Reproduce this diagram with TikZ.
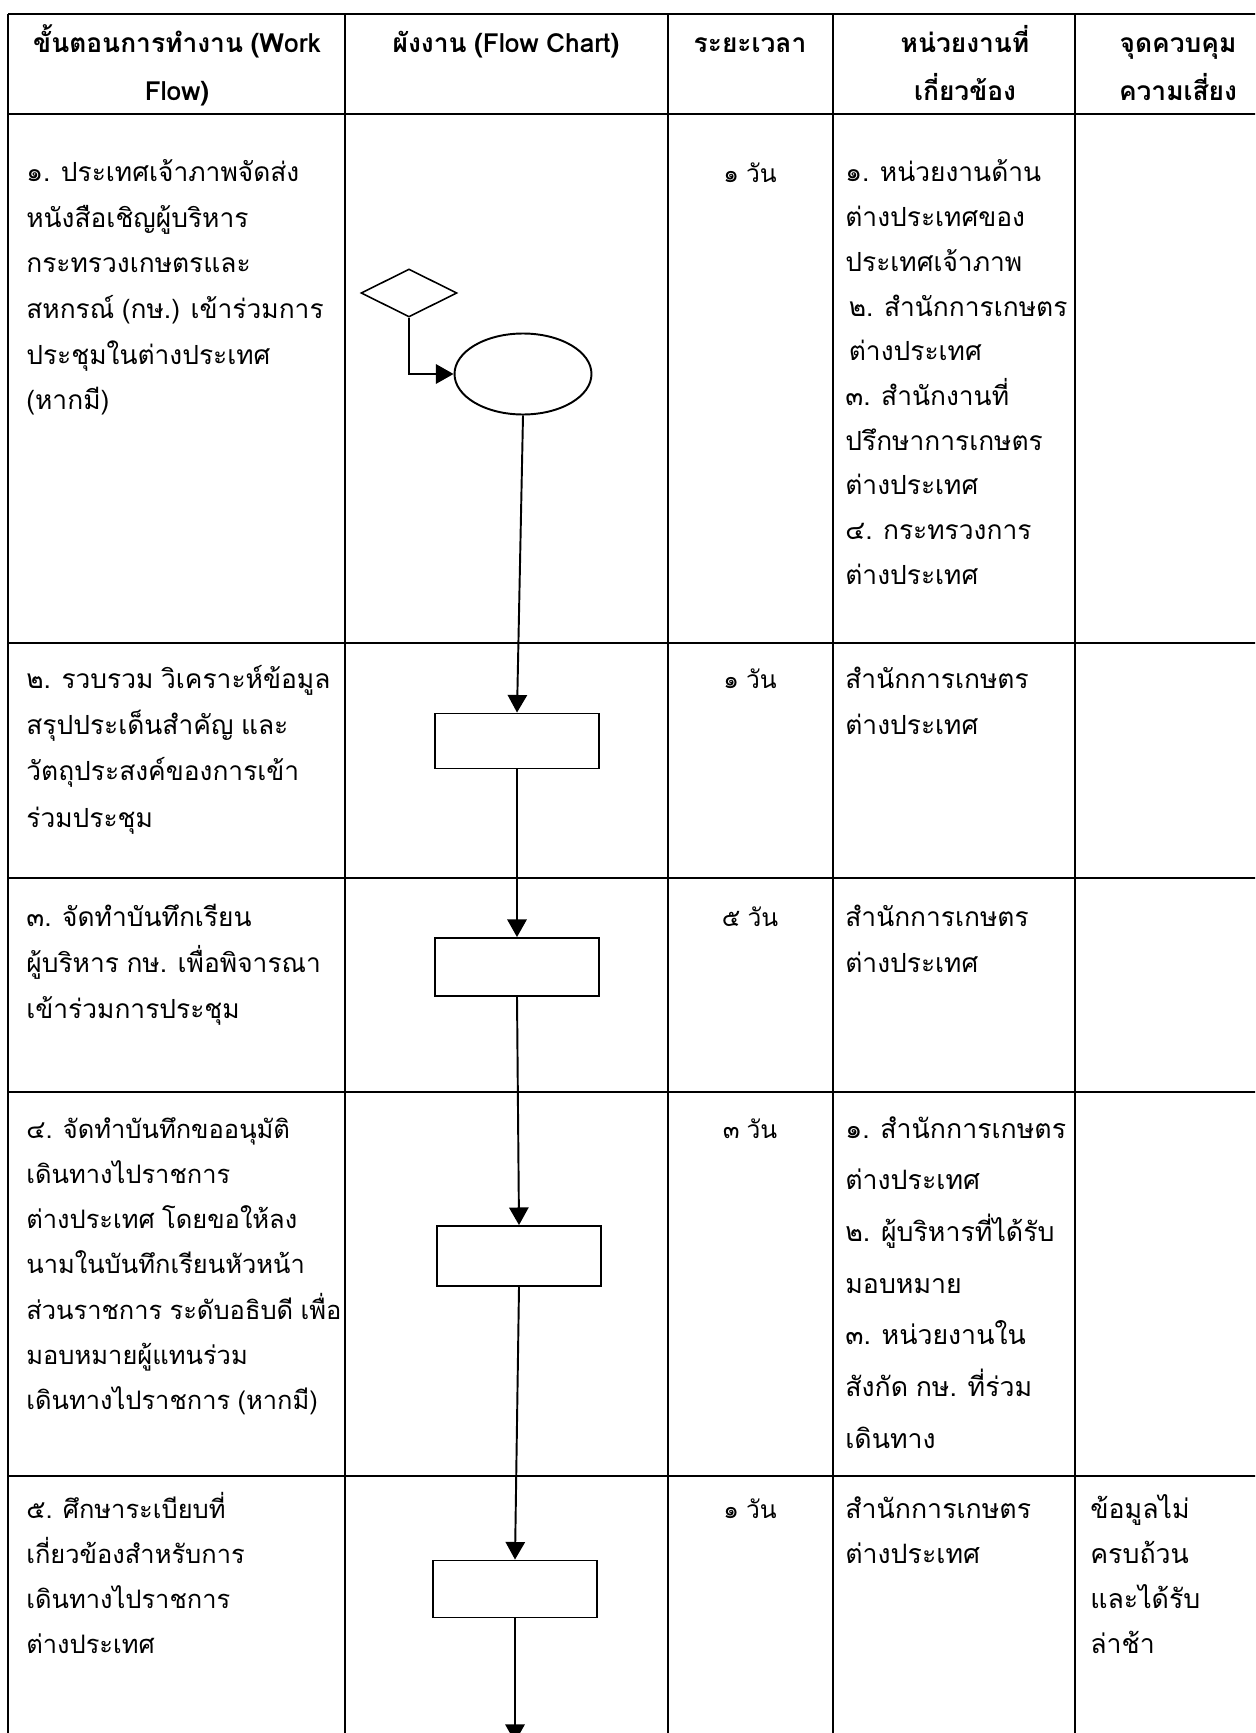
\documentclass[tikz,border=0pt]{standalone}
\usepackage{fontspec}
\newfontfamily\thai[Script=Thai,WordSpace=0.85]{Loma}
\usetikzlibrary{arrows.meta,shapes.geometric}

\begin{document}
\begin{tikzpicture}[x=0.02cm,y=-0.02cm,
    grid/.style={line width=1.2pt},
    headline/.style={line width=1.6pt},
    txt/.style={anchor=base west,inner sep=0pt,font=\thai\fontsize{15}{18}\selectfont},
    txtb/.style={txt,font=\thai\fontsize{14.5}{18}\selectfont},
    txtc/.style={txt,font=\thai\fontsize{15.2}{18}\selectfont},
    head/.style={anchor=base,inner sep=0pt,font=\thai\bfseries\fontsize{15}{18}\selectfont},
    days/.style={anchor=base,inner sep=0pt,font=\thai\fontsize{14}{16}\selectfont},
    proc/.style={draw,line width=1.1pt,minimum width=3.28cm,inner sep=0pt},
    flow/.style={line width=1.1pt,-{Triangle[length=10pt,width=11pt]}}]
    \useasboundingbox (0,0) rectangle (1255,1733);
    \clip (0,0) rectangle (1255,1733);

    \foreach \y in {643,878,1092,1476}{
            \draw[grid] (8,\y) -- (1270,\y);
        }
    \foreach \y in {14,114}{
            \draw[headline] (8,\y) -- (1270,\y);
        }
    \foreach \x in {8,345,668,833,1075}{
            \draw[grid] (\x,14) -- (\x,1740);
        }

    \foreach \t [count=\k] in {ขั้นตอนการทำงาน (Work,Flow)}{
            \node[head] (h1-\k) at (177,{53+48*(\k-1)}) {\t};
        }
    \node[head] (h2) at (506,53) {ผังงาน (Flow Chart)};
    \node[head] (h3) at (750,53) {ระยะเวลา};
    \foreach \t [count=\k] in {หน่วยงานที่,เกี่ยวข้อง}{
            \node[head] (h4-\k) at (965,{53+48*(\k-1)}) {\t};
        }
    \foreach \t [count=\k] in {จุดควบคุม,ความเสี่ยง}{
            \node[head] (h5-\k) at (1178,{53+48*(\k-1)}) {\t};
        }

    \foreach \t [count=\k] in {๑. ประเทศเจ้าภาพจัดส่ง,หนังสือเชิญผู้บริหาร,กระทรวงเกษตรและ,
            สหกรณ์ (กษ.) เข้าร่วมการ,ประชุมในต่างประเทศ,{(หากมี)}}{
            \node[txt] (a1-\k) at (26,{182+45.5*(\k-1)}) {\t};
        }
    \node[days] (d1) at (750,183) {๑ วัน};
    \foreach \t [count=\k] in {๑. หน่วยงานด้าน,ต่างประเทศของ,ประเทศเจ้าภาพ,\hspace{2pt}๒. สำนักการเกษตร,\hspace{2pt}ต่างประเทศ,
            ๓. สำนักงานที่,ปรึกษาการเกษตร,ต่างประเทศ,๔. กระทรวงการ,ต่างประเทศ}{
            \node[txt] (u1-\k) at (845,{182+44.7*(\k-1)}) {\t};
        }

    \foreach \t [count=\k] in {๒. รวบรวม วิเคราะห์ข้อมูล,สรุปประเด็นสำคัญ และ,
            วัตถุประสงค์ของการเข้า,ร่วมประชุม}{
            \node[txt] (a2-\k) at (26,{688+46.4*(\k-1)}) {\t};
        }
    \node[days] (d2) at (750,688) {๑ วัน};
    \foreach \t [count=\k] in {สำนักการเกษตร,ต่างประเทศ}{
            \node[txt] (u2-\k) at (845,{688+46.4*(\k-1)}) {\t};
        }

    \foreach \t [count=\k] in {๓. จัดทำบันทึกเรียน,ผู้บริหาร กษ. เพื่อพิจารณา,เข้าร่วมการประชุม}{
            \node[txt] (a3-\k) at (26,{926+46*(\k-1)}) {\t};
        }
    \node[days] (d3) at (750,926) {๕ วัน};
    \foreach \t [count=\k] in {สำนักการเกษตร,ต่างประเทศ}{
            \node[txt] (u3-\k) at (845,{926+46*(\k-1)}) {\t};
        }

    \foreach \t [count=\k] in {๔. จัดทำบันทึกขออนุมัติ,เดินทางไปราชการ,ต่างประเทศ โดยขอให้ลง,
            นามในบันทึกเรียนหัวหน้า,ส่วนราชการ ระดับอธิบดี เพื่อ,มอบหมายผู้แทนร่วม,
            เดินทางไปราชการ (หากมี)}{
            \node[txtb] (a4-\k) at (26,{1138+45.3*(\k-1)}) {\t};
        }
    \node[days] (d4) at (750,1138) {๓ วัน};
    \foreach \t [count=\k] in {๑. สำนักการเกษตร,ต่างประเทศ,๒. ผู้บริหารที่ได้รับ,มอบหมาย,
            ๓. หน่วยงานใน,สังกัด กษ. ที่ร่วม,เดินทาง}{
            \node[txtc] (u4-\k) at (845,{1138+51.7*(\k-1)}) {\t};
        }

    \foreach \t [count=\k] in {๕. ศึกษาระเบียบที่,เกี่ยวข้องสำหรับการ,เดินทางไปราชการ,ต่างประเทศ}{
            \node[txtb] (a5-\k) at (26,{1518+45*(\k-1)}) {\t};
        }
    \node[days] (d5) at (750,1518) {๑ วัน};
    \foreach \t [count=\k] in {สำนักการเกษตร,ต่างประเทศ}{
            \node[txtc] (u5-\k) at (845,{1518+45*(\k-1)}) {\t};
        }
    \foreach \t [count=\k] in {ข้อมูลไม่,ครบถ้วน,และได้รับ,ล่าช้า}{
            \node[txtc] (r5-\k) at (1090,{1518+45*(\k-1)}) {\t};
        }

    \node[draw,diamond,line width=0.9pt,minimum width=1.92cm,minimum height=0.96cm,inner sep=0pt] (start) at (409,293) {};
    \node[draw,ellipse,line width=1.1pt,minimum width=2.74cm,minimum height=1.62cm,inner sep=0pt] (invite) at (523,374) {};
    \node[proc,minimum height=1.1cm] (collect) at (517,741) {};
    \node[proc,minimum height=1.16cm] (memo) at (517,967) {};
    \node[proc,minimum height=1.2cm] (approve) at (519,1256) {};
    \node[proc,minimum height=1.14cm] (study) at (515,1589) {};
    \coordinate (next) at (515,1742);

    \draw[flow] (start.south) |- (invite.west);
    \draw[flow] (invite.south) -- (collect.north);
    \draw[flow] (collect.south) -- (memo.north);
    \draw[flow] (memo.south) -- (approve.north);
    \draw[flow] (approve.south) -- (study.north);
    \draw[flow] (study.south) -- (next);
\end{tikzpicture}
\end{document}
